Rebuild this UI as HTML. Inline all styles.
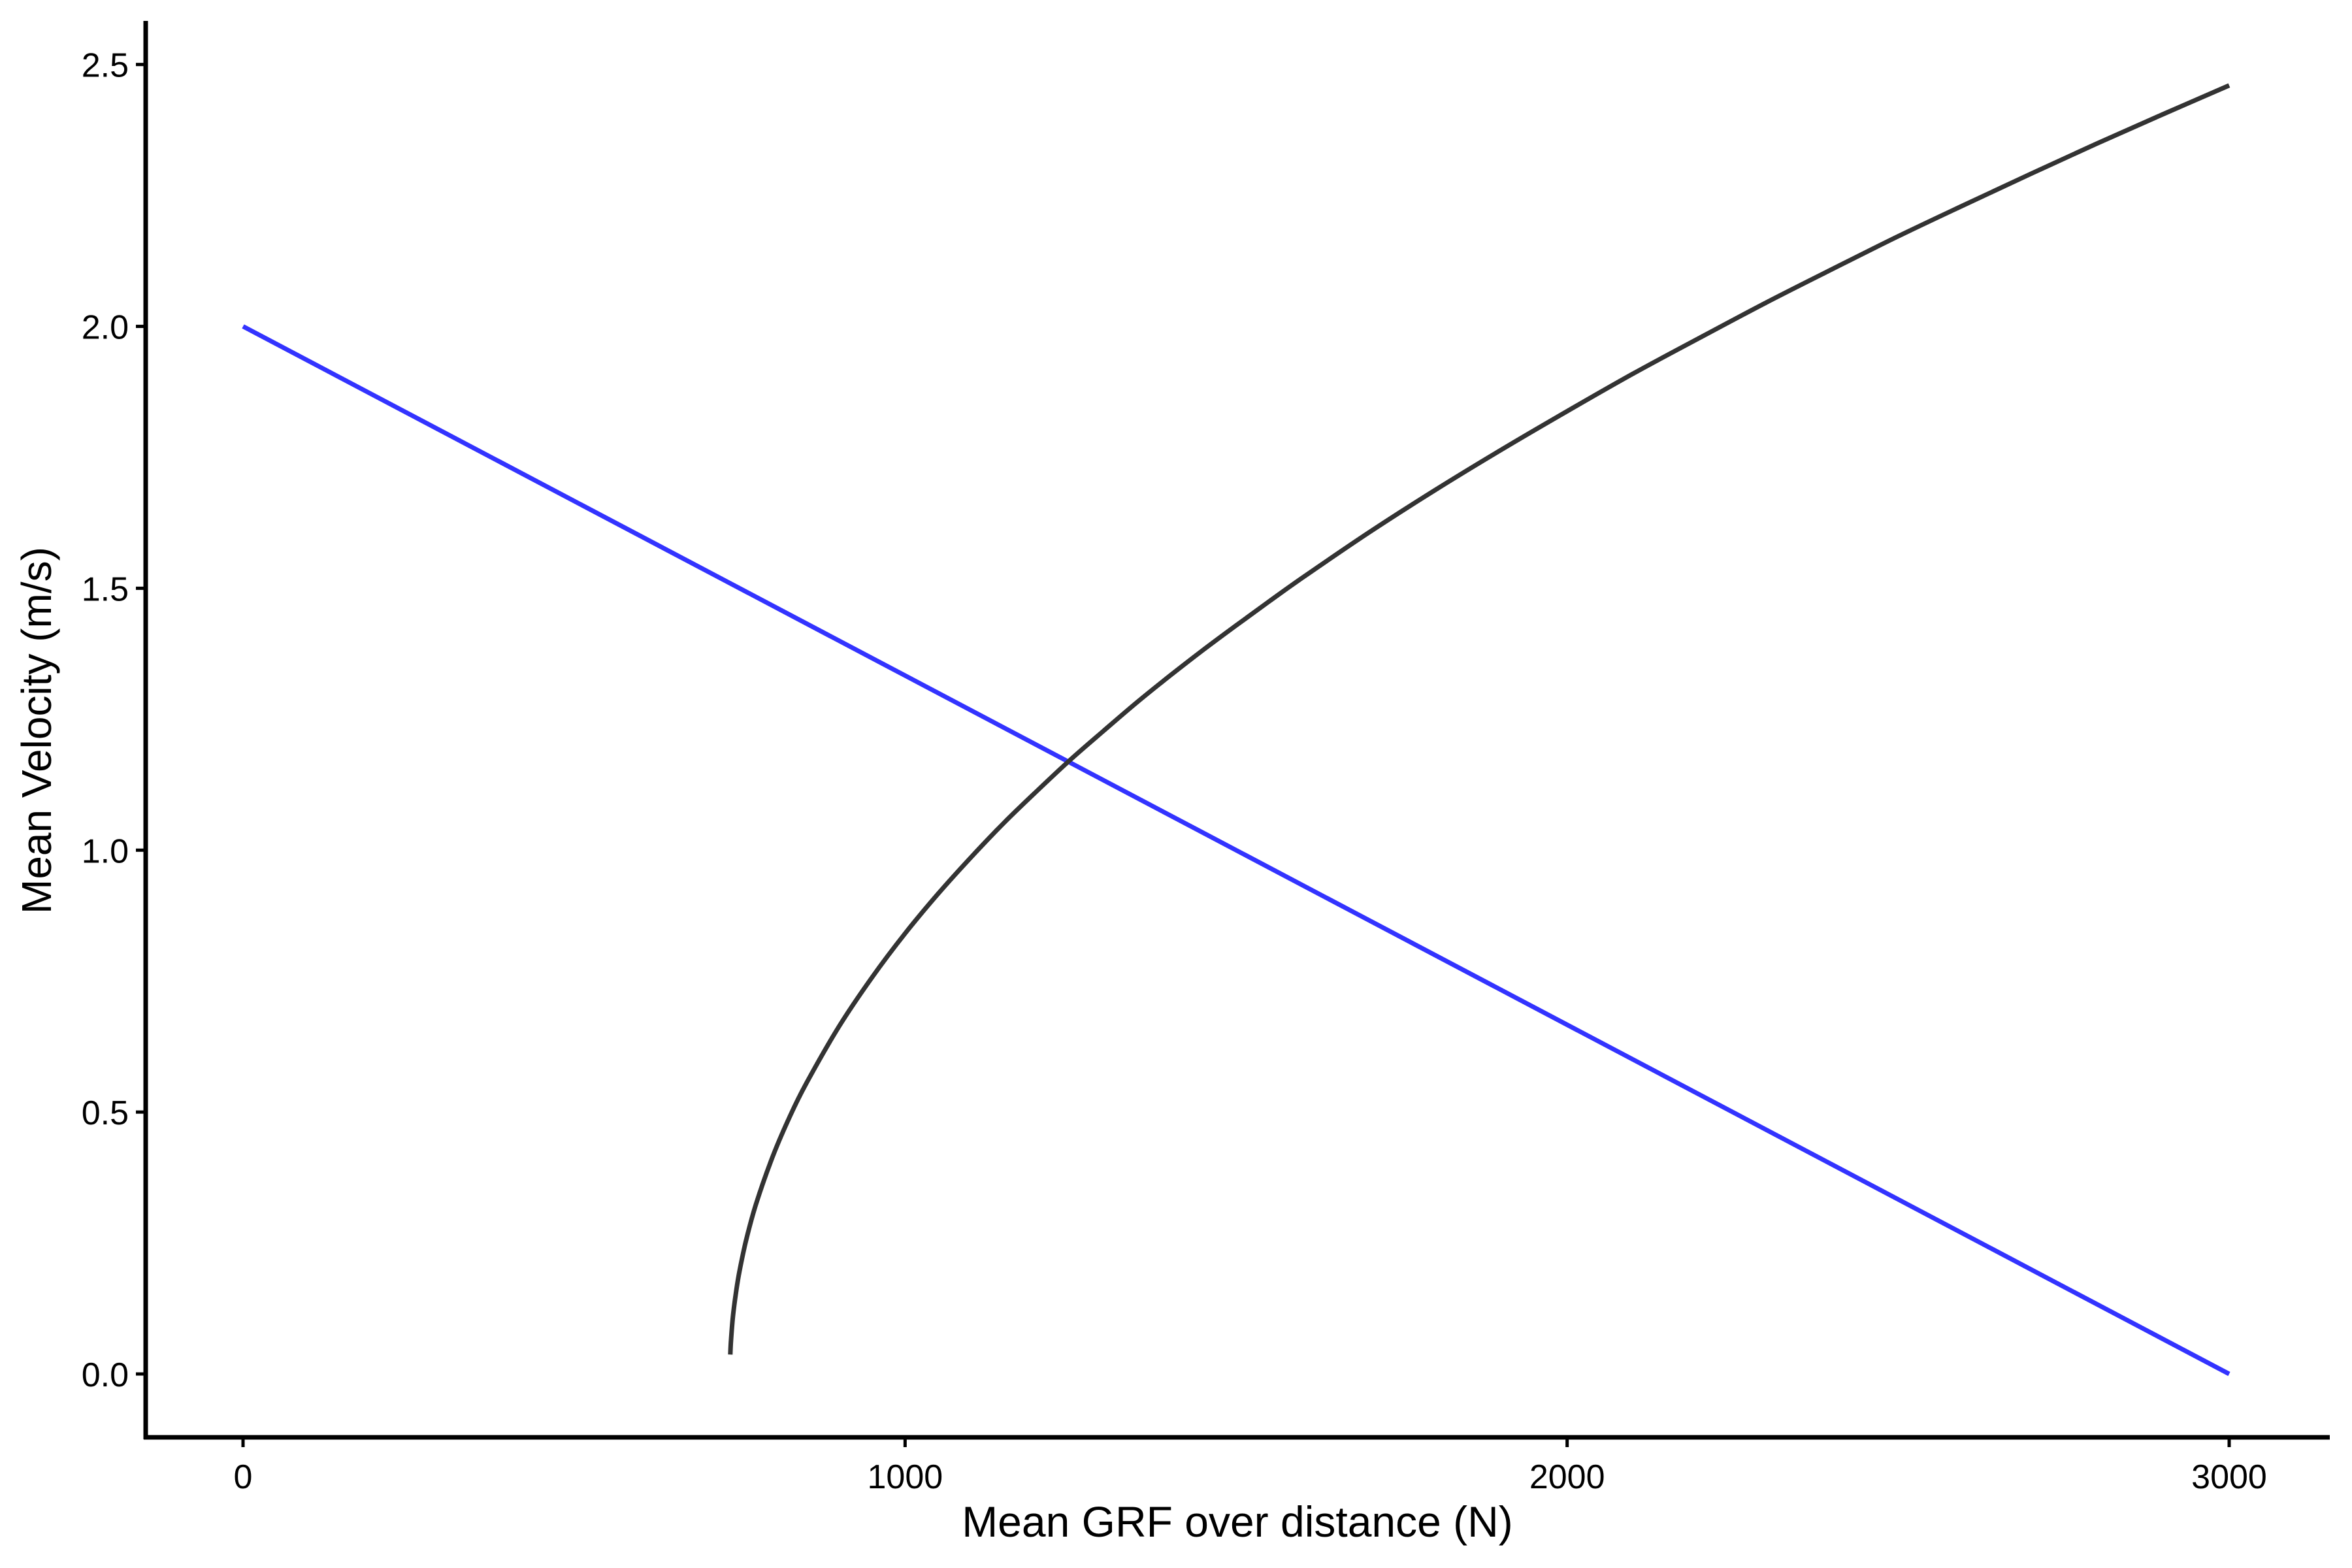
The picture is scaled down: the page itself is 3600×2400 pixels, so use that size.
<!DOCTYPE html>
<html><head><meta charset="utf-8"><style>
html,body{margin:0;padding:0;background:#fff;}
svg{display:block;}
text{font-family:"Liberation Sans",Arial,sans-serif;}
</style></head><body>
<svg id="chart" width="3600" height="2400" viewBox="0 0 3600 2400" xmlns="http://www.w3.org/2000/svg">
<rect width="3600" height="2400" fill="#fff"/>
</svg>
<script>
const xTicks = [0, 1000, 2000, 3000];
const xTickLabels = ["0", "1000", "2000", "3000"];
const yTicks = [0, 0.5, 1.0, 1.5, 2.0, 2.5];
const yTickLabels = ["0.0", "0.5", "1.0", "1.5", "2.0", "2.5"];
const lineX = [0, 3000];
const lineY = [2.0, 0.0];
const curveX = [736, 737, 740, 745, 750, 760, 775, 800, 825, 850, 900, 950, 1000, 1050, 1100, 1150, 1200, 1250, 1300, 1350, 1400, 1450, 1500, 1550, 1600, 1700, 1800, 1900, 2000, 2100, 2200, 2300, 2400, 2500, 2600, 2700, 2800, 2900, 3000];
const curveY = [0.037, 0.063, 0.110, 0.159, 0.197, 0.256, 0.325, 0.415, 0.489, 0.553, 0.663, 0.757, 0.841, 0.917, 0.987, 1.053, 1.114, 1.173, 1.228, 1.282, 1.333, 1.382, 1.429, 1.475, 1.520, 1.606, 1.687, 1.764, 1.838, 1.910, 1.978, 2.045, 2.109, 2.172, 2.232, 2.291, 2.349, 2.405, 2.460];

const NS = "http://www.w3.org/2000/svg";
const svg = document.getElementById('chart');
const X0 = 372, X1 = 3412, Y0 = 2103, Y1 = 98.7;
function sx(v){ return X0 + (v - 0) / 3000 * (X1 - X0); }
function sy(v){ return Y0 + (v - 0) / 2.5 * (Y1 - Y0); }
function mk(tag, attrs){ const e = document.createElementNS(NS, tag); for (const k in attrs) e.setAttribute(k, attrs[k]); svg.appendChild(e); return e; }
function smoothPath(xs, ys){
  const p = xs.map((x, i) => [sx(x), sy(ys[i])]);
  let d = 'M' + p[0][0] + ',' + p[0][1];
  for (let i = 0; i < p.length - 1; i++) {
    const p0 = p[Math.max(0, i - 1)], p1 = p[i], p2 = p[i + 1], p3 = p[Math.min(p.length - 1, i + 2)];
    const c1x = p1[0] + (p2[0] - p0[0]) / 6, c1y = p1[1] + (p2[1] - p0[1]) / 6;
    const c2x = p2[0] - (p3[0] - p1[0]) / 6, c2y = p2[1] - (p3[1] - p1[1]) / 6;
    d += ' C' + c1x + ',' + c1y + ' ' + c2x + ',' + c2y + ' ' + p2[0] + ',' + p2[1];
  }
  return d;
}

let ax = mk('line', {x1:220, y1:2200, x2:3566, y2:2200, stroke:'#000', 'stroke-width':7});


let ay = mk('line', {x1:223, y1:32, x2:223, y2:2203, stroke:'#000', 'stroke-width':7});



xTicks.forEach((t, i) => {
  const tk = mk('line', {x1:sx(t), y1:2200, x2:sx(t), y2:2215, stroke:'#000', 'stroke-width':5});
  
  
  const tl = mk('text', {x:sx(t), y:2278, 'font-size':52, 'text-anchor':'middle', fill:'#000'});
  tl.textContent = xTickLabels[i];
  
  
});
yTicks.forEach((t, i) => {
  const tk = mk('line', {x1:208, y1:sy(t), x2:223, y2:sy(t), stroke:'#000', 'stroke-width':5});
  
  
  const tl = mk('text', {x:197, y:sy(t) + 19, 'font-size':52, 'text-anchor':'end', fill:'#000'});
  tl.textContent = yTickLabels[i];
  
  
});

const xt = mk('text', {x:1894, y:2352, 'font-size':66, 'text-anchor':'middle', fill:'#000'});
xt.textContent = 'Mean GRF over distance (N)';


const yt = mk('text', {x:0, y:0, 'font-size':64, 'text-anchor':'middle', fill:'#000', transform:'translate(78,1118) rotate(-90)'});
yt.textContent = 'Mean Velocity (m/s)';



const lp = mk('polyline', {points: lineX.map((x, i) => sx(x) + ',' + sy(lineY[i])).join(' '), fill:'none', stroke:'#3333ff', 'stroke-width':7});


const cp = mk('path', {d: smoothPath(curveX, curveY), fill:'none', stroke:'#333333', 'stroke-width':7, 'stroke-linejoin':'round'});


</script>
</body></html>
